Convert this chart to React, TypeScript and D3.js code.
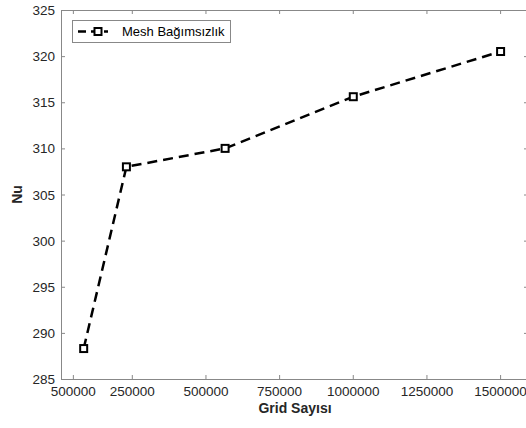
import React from 'react';
import * as d3 from 'd3';

const gridCounts = [85000, 230000, 565000, 1000000, 1500000];
const nuValues = [288.3, 308, 310, 315.6, 320.5];
const xTicks = [50000, 250000, 500000, 750000, 1000000, 1250000, 1500000];
const xTickLabels = ['500000', '250000', '500000', '750000', '1000000', '1250000', '1500000'];
const yTicks = [285, 290, 295, 300, 305, 310, 315, 320, 325];
const seriesName = 'Mesh Bağımsızlık';

const W = 526;
const H = 428;
const left = 61, right = 528, top = 10, bottom = 379;
const font = 'Liberation Sans, Arial, sans-serif';
const axisColor = '#888';
const textColor = '#262626';

export default function App() {
  const x = d3.scaleLinear().domain([8000, 1593000]).range([left, right]);
  const y = d3.scaleLinear().domain([285, 325]).range([bottom, top]);

  const pts = gridCounts.map((g, i) => [x(g), y(nuValues[i])] as [number, number]);
  const line = d3.line()(pts) || '';

  return (
    <svg width={W} height={H} style={{ position: 'absolute', left: 0, top: 0, background: '#fff' }}>
      <rect x={0} y={0} width={W} height={H} fill="#fff" />
      {/* box */}
      <line x1={left} x2={right} y1={bottom + 0.5} y2={bottom + 0.5} stroke={axisColor} />
      <line x1={left} x2={right} y1={top + 0.5} y2={top + 0.5} stroke={axisColor} />
      <line x1={left + 0.5} x2={left + 0.5} y1={top} y2={bottom} stroke={axisColor} />
      <line x1={right} x2={right} y1={top} y2={bottom} stroke={axisColor} />

      {xTicks.map((t, i) => (
        <g key={'x' + i}>
          <line x1={x(t)} x2={x(t)} y1={bottom} y2={bottom - 4} stroke={axisColor} />
          <line x1={x(t)} x2={x(t)} y1={top} y2={top + 4} stroke={axisColor} />
          <text x={x(t)} y={bottom + 17} textAnchor="middle" fontFamily={font} fontSize={13.5} fill={textColor}>
            {xTickLabels[i]}
          </text>
        </g>
      ))}
      {yTicks.map((t) => (
        <g key={'y' + t}>
          <line x1={left} x2={left + 4} y1={y(t) + 0.5} y2={y(t) + 0.5} stroke={axisColor} />
          <line x1={right} x2={right - 4} y1={y(t) + 0.5} y2={y(t) + 0.5} stroke={axisColor} />
          <text x={left - 6} y={y(t) + 5} textAnchor="end" fontFamily={font} fontSize={13.5} fill={textColor}>
            {t}
          </text>
        </g>
      ))}

      <text x={295} y={413} textAnchor="middle" fontFamily={font} fontSize={14} fontWeight="bold" fill={textColor}>
        Grid Sayısı
      </text>
      <text transform={`translate(22,${y(305)}) rotate(-90)`} textAnchor="middle" fontFamily={font} fontSize={14} fontWeight="bold" fill={textColor}>
        Nu
      </text>

      <path d={line} fill="none" stroke="#000" strokeWidth={2.5} strokeDasharray="10,6" />
      {pts.map(([px, py], i) => (
        <rect key={'m' + i} x={px - 3.5} y={py - 3.5} width={7} height={7} fill="#fff" stroke="#000" strokeWidth={2} />
      ))}

      {/* legend */}
      <rect x={72.5} y={20.5} width={158} height={22} fill="#fff" stroke={axisColor} />
      <line x1={78} x2={108} y1={31.5} y2={31.5} stroke="#000" strokeWidth={2.5} strokeDasharray="8,5" />
      <rect x={94.5} y={28} width={7} height={7} fill="#fff" stroke="#000" strokeWidth={2} />
      <text x={122} y={36} fontFamily={font} fontSize={13} fill="#000">
        {seriesName}
      </text>
    </svg>
  );
}
